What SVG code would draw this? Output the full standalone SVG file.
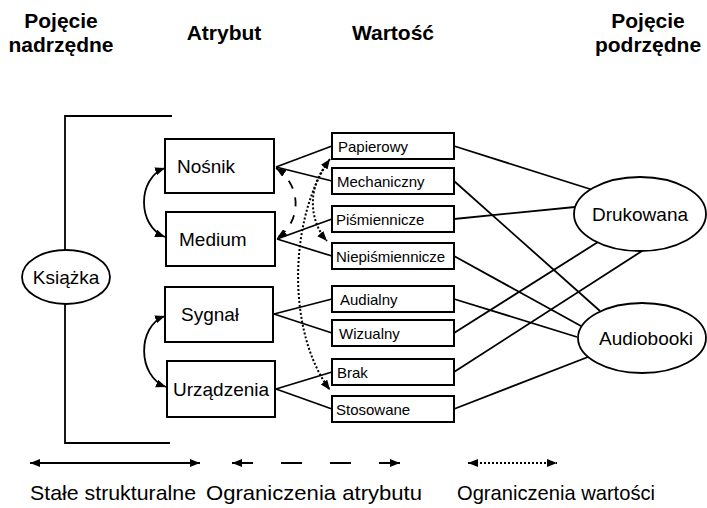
<svg xmlns="http://www.w3.org/2000/svg" width="707" height="508" viewBox="0 0 707 508">
<style>
  text { font-family: "Liberation Sans", Arial, sans-serif; fill: #000; }
  .hdr { font-size: 21px; font-weight: bold; text-anchor: middle; }
  .attr { font-size: 19px; }
  .val { font-size: 15px; }
  .leg { font-size: 21px; }
  .box { fill: #fff; stroke: #000; stroke-width: 2; }
  .ell { fill: #fff; stroke: #000; stroke-width: 1.8; }
  .ln { fill: none; stroke: #000; stroke-width: 1.8; }
  .dash { fill: none; stroke: #000; stroke-width: 1.8; stroke-dasharray: 9 9; }
  .dot { fill: none; stroke: #000; stroke-width: 2; stroke-dasharray: 2 2; }
</style>
<defs>
  <marker id="ah" markerUnits="userSpaceOnUse" markerWidth="12" markerHeight="10" refX="10" refY="4" orient="auto-start-reverse">
    <path d="M0,0 L10,4 L0,8 z" fill="#000"/>
  </marker>
</defs>
<rect width="707" height="508" fill="#fff"/>

<g id="headers">
  <text class="hdr" x="61" y="28">Pojęcie</text>
  <text class="hdr" x="61" y="52">nadrzędne</text>
  <text class="hdr" x="224" y="40">Atrybut</text>
  <text class="hdr" x="393" y="40">Wartość</text>
  <text class="hdr" x="648" y="28">Pojęcie</text>
  <text class="hdr" x="648" y="52">podrzędne</text>
</g>

<g id="connectors">
  <!-- bracket -->
  <path class="ln" d="M172,116 H65 V251 M65,304 V443 H170" stroke-width="2"/>
  <!-- attribute to value -->
  <line class="ln" x1="332" y1="146" x2="276" y2="167"/>
  <line class="ln" x1="332" y1="181" x2="276" y2="167"/>
  <line class="ln" x1="332" y1="219" x2="277" y2="239"/>
  <line class="ln" x1="332" y1="256" x2="277" y2="239"/>
  <line class="ln" x1="332" y1="299" x2="274" y2="314"/>
  <line class="ln" x1="332" y1="333" x2="274" y2="314"/>
  <line class="ln" x1="332" y1="372" x2="276" y2="389"/>
  <line class="ln" x1="332" y1="409" x2="276" y2="389"/>
  <!-- value to concept -->
  <line class="ln" x1="454" y1="146" x2="593" y2="190"/>
  <line class="ln" x1="454" y1="181" x2="600" y2="311"/>
  <line class="ln" x1="454" y1="219" x2="575" y2="207"/>
  <line class="ln" x1="454" y1="256" x2="581" y2="326"/>
  <line class="ln" x1="454" y1="299" x2="577" y2="337"/>
  <line class="ln" x1="454" y1="333" x2="598" y2="242"/>
  <line class="ln" x1="454" y1="372" x2="642" y2="251"/>
  <line class="ln" x1="454" y1="409" x2="588" y2="357"/>
  <!-- structural constants (left curves) -->
  <path class="ln" d="M165,168 C137,178 137,226 165,237" marker-start="url(#ah)" marker-end="url(#ah)"/>
  <path class="ln" d="M165,316 C137,326 137,376 166,387" marker-start="url(#ah)" marker-end="url(#ah)"/>
  <!-- attribute constraint -->
  <path class="dash" d="M276,168 C302,185 302,222 277,238" marker-start="url(#ah)" marker-end="url(#ah)"/>
  <!-- value constraints -->
  <path class="dot" d="M330,159 C290,215 285,330 330,390" marker-start="url(#ah)" marker-end="url(#ah)"/>
  <path class="dot" d="M328,163 C308,185 308,220 327,241" marker-end="url(#ah)"/>
</g>

<g id="ksiazka">
  <ellipse class="ell" cx="66" cy="277" rx="44" ry="27"/>
  <text class="attr" x="66" y="284" text-anchor="middle">Książka</text>
</g>

<g id="nosnik">
  <rect class="box" x="165" y="139" width="109" height="54"/>
  <text class="attr" x="177" y="173">Nośnik</text>
</g>
<g id="medium">
  <rect class="box" x="166" y="212" width="109" height="54"/>
  <text class="attr" x="179" y="246">Medium</text>
</g>
<g id="sygnal">
  <rect class="box" x="165" y="287" width="108" height="55"/>
  <text class="attr" x="181" y="321">Sygnał</text>
</g>
<g id="urzadzenia">
  <rect class="box" x="167" y="361" width="108" height="56"/>
  <text class="attr" x="173" y="396">Urządzenia</text>
</g>

<g id="papierowy">
  <rect class="box" x="332" y="133" width="122" height="26"/>
  <text class="val" x="338" y="151.5">Papierowy</text>
</g>
<g id="mechaniczny">
  <rect class="box" x="332" y="168" width="122" height="26"/>
  <text class="val" x="337" y="186.5">Mechaniczny</text>
</g>
<g id="pismiennicze">
  <rect class="box" x="332" y="206" width="122" height="26"/>
  <text class="val" x="336" y="224.5">Piśmiennicze</text>
</g>
<g id="niepismiennicze">
  <rect class="box" x="332" y="243" width="122" height="26"/>
  <text class="val" x="336" y="261.5">Niepiśmiennicze</text>
</g>
<g id="audialny">
  <rect class="box" x="332" y="286" width="122" height="26"/>
  <text class="val" x="340" y="304.5">Audialny</text>
</g>
<g id="wizualny">
  <rect class="box" x="332" y="320" width="122" height="26"/>
  <text class="val" x="339" y="338.5">Wizualny</text>
</g>
<g id="brak">
  <rect class="box" x="332" y="359" width="122" height="26"/>
  <text class="val" x="337" y="377.5">Brak</text>
</g>
<g id="stosowane">
  <rect class="box" x="332" y="396" width="122" height="26"/>
  <text class="val" x="336" y="414.5">Stosowane</text>
</g>

<g id="drukowana">
  <ellipse class="ell" cx="640" cy="214" rx="66" ry="37"/>
  <text class="attr" x="640" y="221" text-anchor="middle">Drukowana</text>
</g>
<g id="audiobooki">
  <ellipse class="ell" cx="642" cy="338" rx="64" ry="35"/>
  <text class="attr" x="646" y="345" text-anchor="middle">Audiobooki</text>
</g>

<g id="legend">
  <line class="ln" x1="30" y1="463" x2="200" y2="463" marker-start="url(#ah)" marker-end="url(#ah)"/>
  <line class="ln" x1="232" y1="463" x2="400" y2="463" stroke-dasharray="21 28" marker-start="url(#ah)" marker-end="url(#ah)"/>
  <line class="dot" x1="468" y1="463" x2="557" y2="463" marker-start="url(#ah)" marker-end="url(#ah)"/>
  <text class="leg" x="30" y="500" textLength="166" lengthAdjust="spacingAndGlyphs">Stałe strukturalne</text>
  <text class="leg" x="206" y="500" textLength="216" lengthAdjust="spacingAndGlyphs">Ograniczenia atrybutu</text>
  <text class="leg" x="457" y="500" textLength="198" lengthAdjust="spacingAndGlyphs">Ograniczenia wartości</text>
</g>
</svg>
